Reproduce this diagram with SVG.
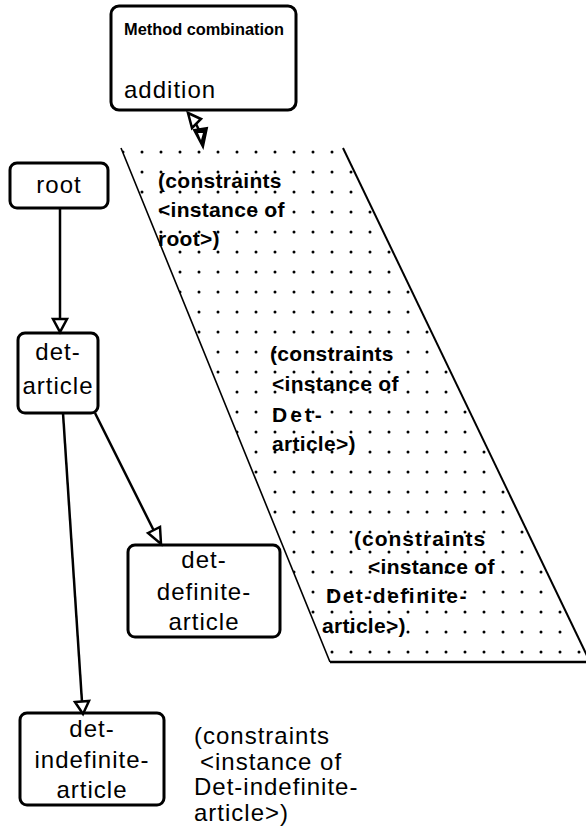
<svg xmlns="http://www.w3.org/2000/svg" width="586" height="829" viewBox="0 0 586 829">
<style>
.box{fill:#fff;stroke:#000;stroke-width:3}
.t{font-family:"Liberation Sans",Arial,sans-serif;font-size:24px;fill:#000;letter-spacing:1px}
.b{font-family:"Liberation Sans",Arial,sans-serif;font-size:21px;font-weight:bold;fill:#000;letter-spacing:0.3px}
.edge{fill:none;stroke:#000;stroke-width:2.5}
.head{fill:#fff;stroke:#000;stroke-width:2.5;stroke-linejoin:miter}
</style>
<defs>
<pattern id="dots" x="0" y="2" width="19" height="20" patternUnits="userSpaceOnUse">
<circle cx="9" cy="10" r="1.5" fill="#000"/>
</pattern>
</defs>
<rect width="586" height="829" fill="#fff"/>

<g id="constraints-panel">
<polygon points="121,148 343,148 590,662 330,662" fill="url(#dots)"/>
<line x1="121" y1="148" x2="330" y2="662" stroke="#000" stroke-width="1.6"/>
<line x1="343" y1="148" x2="590" y2="662" stroke="#000" stroke-width="2"/>
<line x1="330" y1="662" x2="586" y2="662" stroke="#000" stroke-width="2.5"/>
<g class="b">
<text x="158" y="188">(constraints</text>
<text x="158" y="217">&lt;instance of</text>
<text x="158" y="246">root&gt;)</text>
<text x="270" y="361">(constraints</text>
<text x="272" y="391">&lt;instance of</text>
<text x="272" y="422" letter-spacing="3">Det-</text>
<text x="272" y="451">article&gt;)</text>
<text x="354" y="546" letter-spacing="1">(constraints</text>
<text x="368" y="574">&lt;instance of</text>
<text x="326" y="603" letter-spacing="1.5">Det-definite-</text>
<text x="322" y="633">article&gt;)</text>
</g>
</g>

<g id="method-combination">
<rect class="box" x="111" y="6" width="185" height="104" rx="8"/>
<text x="124" y="35" font-family="Liberation Sans,Arial,sans-serif" font-size="16" font-weight="bold" textLength="160" lengthAdjust="spacingAndGlyphs">Method combination</text>
<text x="124" y="98" class="t" font-size="25" letter-spacing="1.5">addition</text>
</g>

<g id="root">
<rect class="box" x="10" y="163" width="98" height="45" rx="7"/>
<text x="59" y="193" class="t" text-anchor="middle" font-size="23">root</text>
</g>

<g id="det-article">
<rect class="box" x="18" y="333" width="80" height="80" rx="7"/>
<text x="58" y="360" class="t" text-anchor="middle">det-</text>
<text x="58" y="394" class="t" text-anchor="middle">article</text>
</g>

<g id="det-definite-article">
<rect class="box" x="128" y="545" width="152" height="92" rx="7"/>
<text x="204" y="568" class="t" text-anchor="middle">det-</text>
<text x="204" y="600" class="t" text-anchor="middle">definite-</text>
<text x="204" y="630" class="t" text-anchor="middle">article</text>
</g>

<g id="det-indefinite-article">
<rect class="box" x="20" y="713" width="144" height="92" rx="7"/>
<text x="92" y="737" class="t" text-anchor="middle">det-</text>
<text x="92" y="768" class="t" text-anchor="middle">indefinite-</text>
<text x="92" y="798" class="t" text-anchor="middle">article</text>
</g>

<g id="free-label">
<text x="194" y="744" class="t" font-size="21">(constraints</text>
<text x="200" y="769.5" class="t" font-size="21">&lt;instance of</text>
<text x="194" y="795" class="t" font-size="21">Det-indefinite-</text>
<text x="194" y="820.5" class="t" font-size="21" letter-spacing="0">article&gt;)</text>
</g>

<g id="connectors">
<line class="edge" x1="60" y1="208" x2="60" y2="319"/>
<polygon class="head" points="53,319 67,319 60,332"/>
<line class="edge" x1="63" y1="413" x2="82" y2="702"/>
<polygon class="head" points="75,702 89,701 83,714"/>
<line class="edge" x1="95" y1="413" x2="154" y2="531" stroke-width="4"/>
<polygon class="head" points="148,533 160,527 161,544"/>
<g id="method-arrow">
<polygon class="head" points="188,113 201,119 192,128" stroke-width="3.5"/>
<line class="edge" x1="196" y1="124" x2="200" y2="132" stroke-width="5"/>
<polygon points="194,130 207,128 203,147" fill="#000" stroke="#000" stroke-width="2"/>
<polygon points="198,133 203,133 201,140" fill="#fff"/>
</g>
</g>
</svg>
